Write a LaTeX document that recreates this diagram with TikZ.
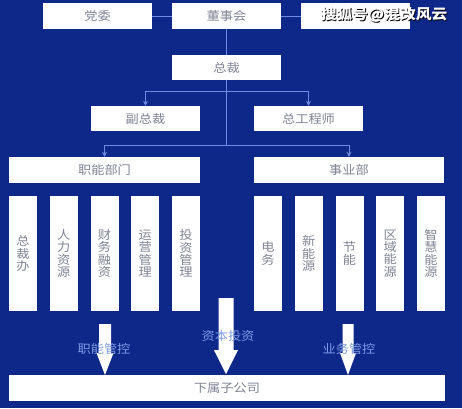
\documentclass[tikz,border=0pt]{standalone}
\usepackage{fontspec}
\setmainfont[FakeStretch=1.1]{Noto Sans CJK SC}
\usetikzlibrary{arrows.meta}
\definecolor{bg}{RGB}{14,40,138}
\definecolor{lineblue}{RGB}{110,140,225}
\definecolor{boxtext}{RGB}{128,131,148}
\definecolor{lbl}{RGB}{125,155,230}
\tikzset{
  box/.style={fill=white, draw=none, inner sep=0pt, text=boxtext, font=\fontsize{12}{12}\selectfont},
  vbox/.style={box, minimum width=28pt, minimum height=115pt, align=center, font=\fontsize{12}{12.2}\selectfont},
  conn/.style={draw=lineblue, line width=0.9pt},
  arr/.style={conn, -{Stealth[length=5pt,width=5pt]}},
  bigarrow/.style={fill=white, draw=none},
  ctl/.style={text=lbl, font=\fontsize{12}{12}\selectfont, inner sep=0pt},
  wmark/.style={font=\fontsize{14.3}{14.3}\selectfont\bfseries, inner sep=0pt},
}
\begin{document}
\begin{tikzpicture}[x=1pt,y=-1pt]
\fill[bg] (0,0) rectangle (462,408);
\useasboundingbox (0,0) rectangle (462,408);
% top row
\node[box, minimum width=109pt, minimum height=26pt] (dw) at (97.5,16) {党委};
\node[box, minimum width=109pt, minimum height=26pt] (dsh) at (226.5,16) {董事会};
\node[box, minimum width=109pt, minimum height=26pt] (jsh) at (355.5,16) {};
\node[box, minimum width=109pt, minimum height=25pt] (zc) at (226.5,67.5) {总裁};
\node[box, minimum width=109pt, minimum height=25pt] (fzc) at (145.5,118.5) {副总裁};
\node[box, minimum width=109pt, minimum height=25pt] (zgcs) at (308.5,118.5) {总工程师};
\node[box, minimum width=191pt, minimum height=26pt] (zn) at (104.5,170) {职能部门};
\node[box, minimum width=190pt, minimum height=26pt] (sy) at (349,170) {事业部};
% vertical boxes
\node[vbox] (a1) at (23,253.5) {总\\裁\\办};
\node[vbox] (a2) at (63.75,253.5) {人\\力\\资\\源};
\node[vbox] (a3) at (104.5,253.5) {财\\务\\融\\资};
\node[vbox] (a4) at (145.25,253.5) {运\\营\\管\\理};
\node[vbox] (a5) at (186,253.5) {投\\资\\管\\理};
\node[vbox] (b1) at (268,253.5) {电\\务};
\node[vbox] (b2) at (308.75,253.5) {新\\能\\源};
\node[vbox] (b3) at (349.5,253.5) {节\\能};
\node[vbox] (b4) at (390.25,253.5) {区\\域\\能\\源};
\node[vbox] (b5) at (431,253.5) {智\\慧\\能\\源};
\node[box, minimum width=436pt, minimum height=26pt] (xs) at (227,388) {下属子公司};
% connectors
\coordinate (j1) at (226.5,91);
\coordinate (j2) at (226.5,145);
\draw[conn] (dw.east) -- (dsh.west);
\draw[conn] (dsh.east) -- (jsh.west);
\draw[conn] (dsh.south) -- (zc.north);
\draw[conn] (zc.south) -- (j2);
\draw[arr] (j1) -| (fzc.north);
\draw[arr] (j1) -| (zgcs.north);
\draw[arr] (j2) -| (zn.north);
\draw[arr] (j2) -| (sy.north);
% big arrows
\coordinate (t1) at (105,375);
\coordinate (t2) at (226,374);
\coordinate (t3) at (348,375);
\fill[bigarrow] (99,324) -- (111,324) -- (111,353) -- (113.5,353) -- (t1) -- (96.5,353) -- (99,353) -- cycle;
\fill[bigarrow] (218.5,298) -- (233.5,298) -- (233.5,350) -- (238,350) -- (t2) -- (214,350) -- (218.5,350) -- cycle;
\fill[bigarrow] (342.5,324) -- (353.5,324) -- (353.5,353) -- (356,353) -- (t3) -- (340,353) -- (342.5,353) -- cycle;
\node[ctl] (l1) at (104,349) {职能管控};
\node[ctl] (l2) at (228,336) {资本投资};
\node[ctl] (l3) at (349,349) {业务管控};
% watermark
\node[wmark, text=black] (wm0) at (384.8,15.8) {搜狐号@混改风云};
\node[wmark, text=white] (wm) at (384,15) {搜狐号@混改风云};
\end{tikzpicture}
\end{document}
